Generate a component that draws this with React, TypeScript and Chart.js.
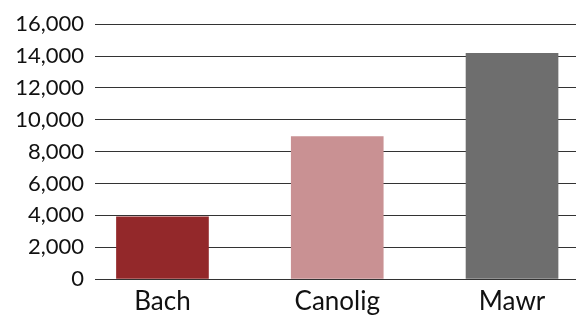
import React, { useEffect, useRef } from "react";
import { Chart, registerables } from "chart.js";

Chart.register(...registerables);

const categories = ["Bach", "Canolig", "Mawr"];
const values = [3900, 8940, 14170];
const barColors = ["#93282a", "#c99193", "#6e6e6e"];
const yTicks = [0, 2000, 4000, 6000, 8000, 10000, 12000, 14000, 16000];

export default function App() {
  const ref = useRef<HTMLCanvasElement | null>(null);
  useEffect(() => {
    if (!ref.current) return;
    const family = "Lato, 'Open Sans', sans-serif";
    const chart = new Chart(ref.current, {
      type: "bar",
      data: {
        datasets: [
          {
            data: categories.map((c, i) => ({ x: i, y: values[i] })),
            backgroundColor: barColors,
            borderWidth: 0,
            barThickness: 92,
          },
        ],
      },
      options: {
        animation: false,
        responsive: false,
        maintainAspectRatio: false,
        layout: { padding: { top: 23, left: 0, right: 0, bottom: 0 } },
        plugins: { legend: { display: false }, tooltip: { enabled: false } },
        scales: {
          x: {
            type: "linear",
            min: -0.386,
            max: 2.366,
            offset: false,
            bounds: "data",
            afterBuildTicks: (scale: any) => {
              scale.ticks = categories.map((_, i) => ({ value: i }));
            },
            afterDataLimits: (scale: any) => {
              scale.min = -0.386;
              scale.max = 2.366;
            },
            afterFit: (scale: any) => {
              scale.height = 36;
            },
            grid: { display: false, drawTicks: false },
            border: { display: false },
            ticks: {
              color: "#111",
              font: { family, size: 26 },
              padding: 7,
              maxRotation: 0,
              autoSkip: false,
              includeBounds: false,
              callback: (v: any) => categories[Math.round(Number(v))] ?? "",
            },
          },
          y: {
            min: 0,
            max: 16000,
            afterBuildTicks: (scale: any) => {
              scale.ticks = yTicks.map((v) => ({ value: v }));
            },
            afterFit: (scale: any) => {
              scale.width = 95;
            },
            grid: { color: "#333", lineWidth: 1, drawTicks: false },
            border: { display: false },
            ticks: {
              color: "#111",
              font: { family, size: 22 },
              padding: 11,
              callback: (v: any) => Number(v).toLocaleString("en-US"),
            },
          },
        },
      },
    });
    return () => chart.destroy();
  }, []);
  return (
    <div style={{ position: "fixed", left: 0, top: 0, width: 576, height: 315, background: "#fff" }}>
      <canvas ref={ref} width={576} height={315} style={{ width: 576, height: 315 }} />
    </div>
  );
}
